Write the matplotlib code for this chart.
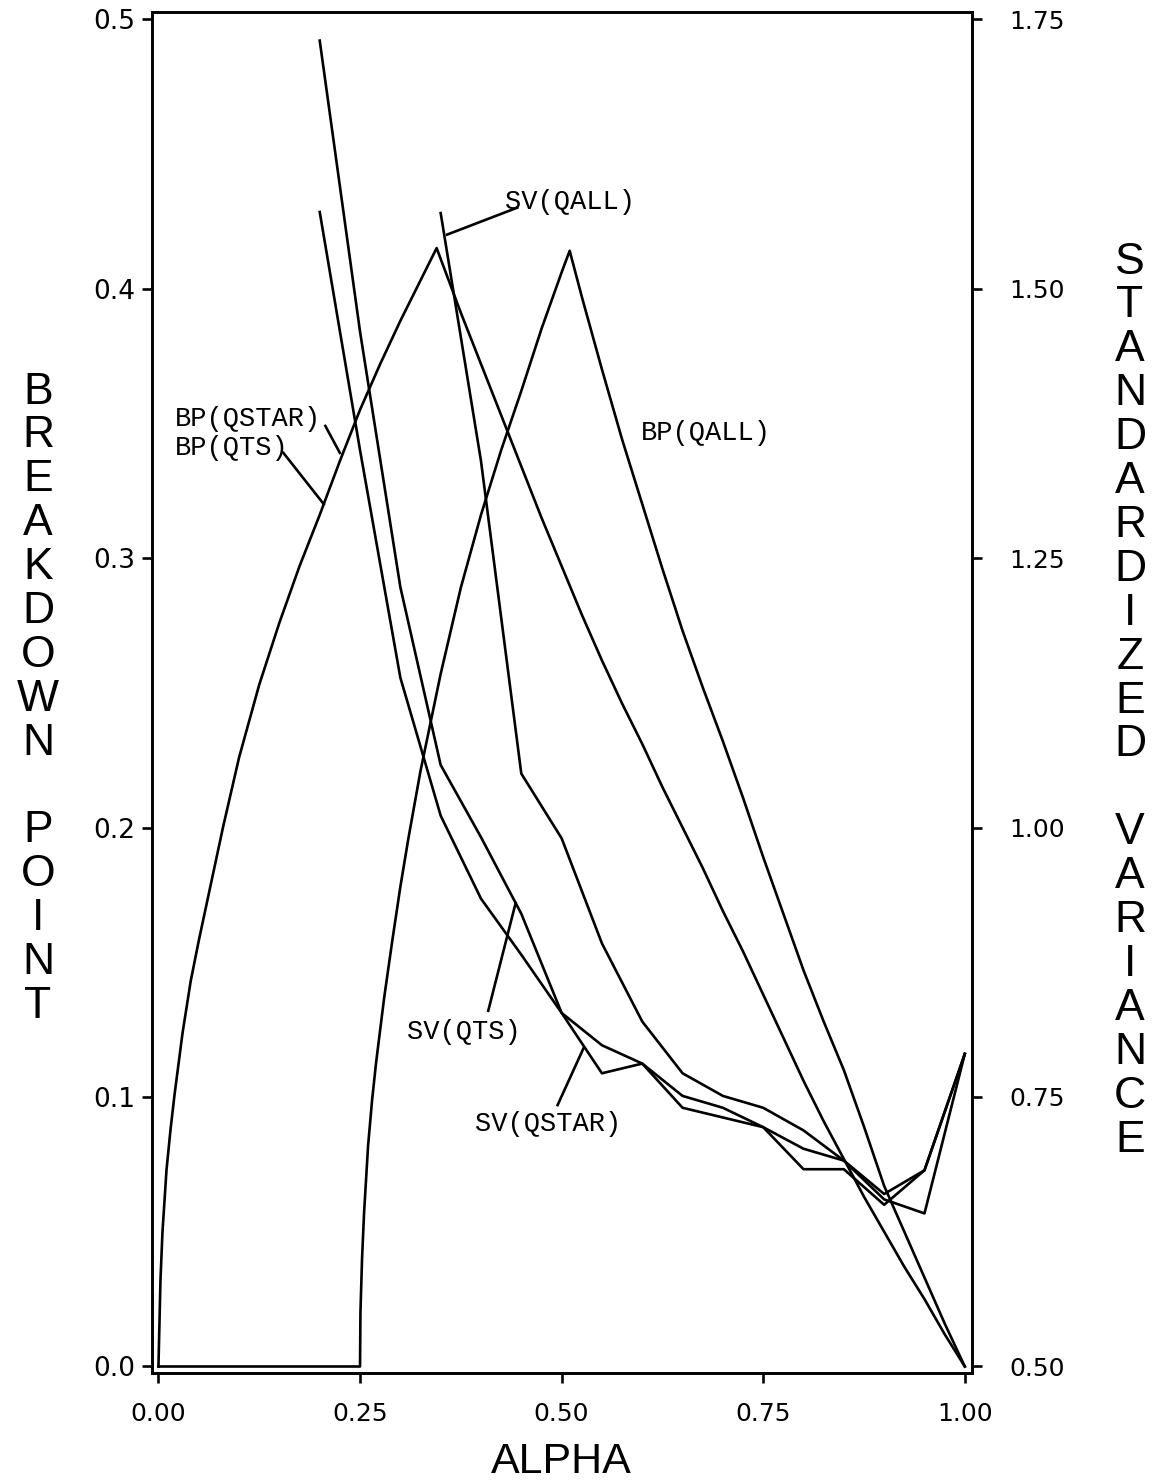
import matplotlib.pyplot as plt

# breakdown point curves (left axis)
bp_qts_alpha = [0, 0.0025, 0.005, 0.01, 0.015, 0.02, 0.03, 0.04, 0.05, 0.06, 0.08, 0.1, 0.125,
                0.15, 0.175, 0.2, 0.225, 0.25, 0.275, 0.3, 0.325, 0.345, 0.375, 0.4, 0.425,
                0.45, 0.475, 0.5, 0.525, 0.55, 0.575, 0.6, 0.625, 0.65, 0.675, 0.7, 0.725,
                0.75, 0.775, 0.8, 0.825, 0.85, 0.875, 0.9, 0.925, 0.95, 0.975, 1.0]
bp_qts = [0, 0.032, 0.05, 0.073, 0.088, 0.101, 0.124, 0.143, 0.158, 0.172, 0.2, 0.226, 0.253,
          0.276, 0.297, 0.316, 0.336, 0.355, 0.372, 0.388, 0.403, 0.415, 0.391, 0.372, 0.353,
          0.334, 0.315, 0.297, 0.279, 0.262, 0.246, 0.231, 0.215, 0.200, 0.185, 0.169, 0.154,
          0.138, 0.122, 0.106, 0.091, 0.077, 0.063, 0.050, 0.037, 0.025, 0.012, 0.0]

bp_qall_alpha = [0, 0.25, 0.2505, 0.2525, 0.255, 0.26, 0.265, 0.27, 0.28, 0.29, 0.3, 0.31, 0.325,
                 0.35, 0.375, 0.4, 0.425, 0.45, 0.475, 0.5, 0.51, 0.525, 0.55, 0.575, 0.6, 0.625,
                 0.65, 0.675, 0.7, 0.725, 0.75, 0.775, 0.8, 0.825, 0.85, 0.875, 0.9, 0.925,
                 0.95, 0.975, 1.0]
bp_qall = [0, 0, 0.02, 0.04, 0.057, 0.082, 0.099, 0.113, 0.137, 0.158, 0.178, 0.196, 0.221,
           0.257, 0.289, 0.316, 0.340, 0.362, 0.385, 0.406, 0.414, 0.397, 0.370, 0.344, 0.320,
           0.296, 0.273, 0.252, 0.232, 0.211, 0.189, 0.168, 0.147, 0.128, 0.110, 0.089, 0.067,
           0.050, 0.033, 0.016, 0.0]

# standardized variance curves (right axis)
sv_alpha = [0.2, 0.25, 0.3, 0.35, 0.4, 0.45, 0.5, 0.55, 0.6, 0.65, 0.7, 0.75, 0.8, 0.85, 0.9, 0.95, 1.0]
sv_qts = [1.730, 1.46, 1.223, 1.058, 0.991, 0.920, 0.828, 0.798, 0.781, 0.751, 0.740, 0.722,
          0.702, 0.691, 0.655, 0.642, 0.790]
sv_qstar = [1.571, 1.35, 1.139, 1.011, 0.934, 0.882, 0.828, 0.772, 0.781, 0.740, 0.731, 0.722,
            0.683, 0.683, 0.650, 0.682, 0.790]
sv_qall_alpha = [0.35, 0.4, 0.45, 0.5, 0.55, 0.6, 0.65, 0.7, 0.75, 0.8, 0.85, 0.9, 0.95, 1.0]
sv_qall = [1.57, 1.34, 1.05, 0.99, 0.8925, 0.82, 0.772, 0.751, 0.740, 0.719, 0.691, 0.660, 0.682, 0.790]

x_ticks = [0.0, 0.25, 0.5, 0.75, 1.0]
bp_ticks = [0.0, 0.1, 0.2, 0.3, 0.4, 0.5]
sv_ticks = [0.5, 0.75, 1.0, 1.25, 1.5, 1.75]

plt.rcParams['font.family'] = ['Liberation Sans', 'DejaVu Sans']
mono = 'Liberation Mono'
lw = 1.9

fig = plt.figure(figsize=(11.55, 14.83), dpi=100)
ax = fig.add_axes([0.1316, 0.0742, 0.71, 0.9177])
ax2 = ax.twinx()

ax.plot(bp_qts_alpha, bp_qts, color='black', lw=lw)
ax.plot(bp_qall_alpha, bp_qall, color='black', lw=lw)
ax2.plot(sv_alpha, sv_qts, color='black', lw=lw)
ax2.plot(sv_alpha, sv_qstar, color='black', lw=lw)
ax2.plot(sv_qall_alpha, sv_qall, color='black', lw=lw)

ax.set_xlim(-0.008, 1.009)
ax.set_ylim(-0.0024, 0.5026)
ax2.set_ylim(0.494, 1.7565)

ax.set_xticks(x_ticks)
ax.set_xticklabels([f'{t:.2f}' for t in x_ticks], family='DejaVu Sans', fontsize=18)
ax.set_yticks(bp_ticks)
ax.set_yticklabels([f'{t:.1f}' for t in bp_ticks], family='DejaVu Sans', fontsize=19)
ax2.set_yticks(sv_ticks)
ax2.set_yticklabels([f'{t:.2f}' for t in sv_ticks], family='DejaVu Sans', fontsize=18)

for a in (ax, ax2):
    for s in a.spines.values():
        s.set_linewidth(1.9)
    a.tick_params(direction='out', length=7, width=1.9)
ax.tick_params(axis='x', pad=14)
ax.tick_params(axis='y', pad=5)
ax2.tick_params(axis='y', pad=20)

# curve labels with pointer lines (in axis data coordinates)
fs = 19.5
ax.text(0.43, 0.432, 'SV(QALL)', family=mono, fontsize=fs, va='center')
ax.plot([0.445, 0.358], [0.430, 0.420], color='black', lw=lw)
ax.text(0.598, 0.3465, 'BP(QALL)', family=mono, fontsize=fs, va='center')
ax.text(0.02, 0.3515, 'BP(QSTAR)', family=mono, fontsize=fs, va='center')
ax.text(0.02, 0.341, 'BP(QTS)', family=mono, fontsize=fs, va='center')
ax.plot([0.207, 0.225], [0.349, 0.339], color='black', lw=lw)
ax.plot([0.155, 0.205], [0.339, 0.320], color='black', lw=lw)
ax.text(0.308, 0.124, 'SV(QTS)', family=mono, fontsize=fs, va='center')
ax.plot([0.409, 0.443], [0.132, 0.172], color='black', lw=lw)
ax.text(0.393, 0.090, 'SV(QSTAR)', family=mono, fontsize=fs, va='center')
ax.plot([0.495, 0.527], [0.097, 0.118], color='black', lw=lw)

# stacked axis titles
left_title = 'BREAKDOWN POINT'
right_title = 'STANDARDIZED VARIANCE'
step = 43.9 / 1483
for i, ch in enumerate(left_title):
    fig.text(38 / 1155, 1 - 392 / 1483 - i * step, ch, fontsize=32, ha='center', va='center')
for i, ch in enumerate(right_title):
    fig.text(1130 / 1155, 1 - 262 / 1483 - i * step, ch, fontsize=32, ha='center', va='center')
fig.text(561 / 1155, 1 - 1462 / 1483, 'ALPHA', fontsize=31, ha='center', va='center')

fig.savefig('out.png', dpi=100)
